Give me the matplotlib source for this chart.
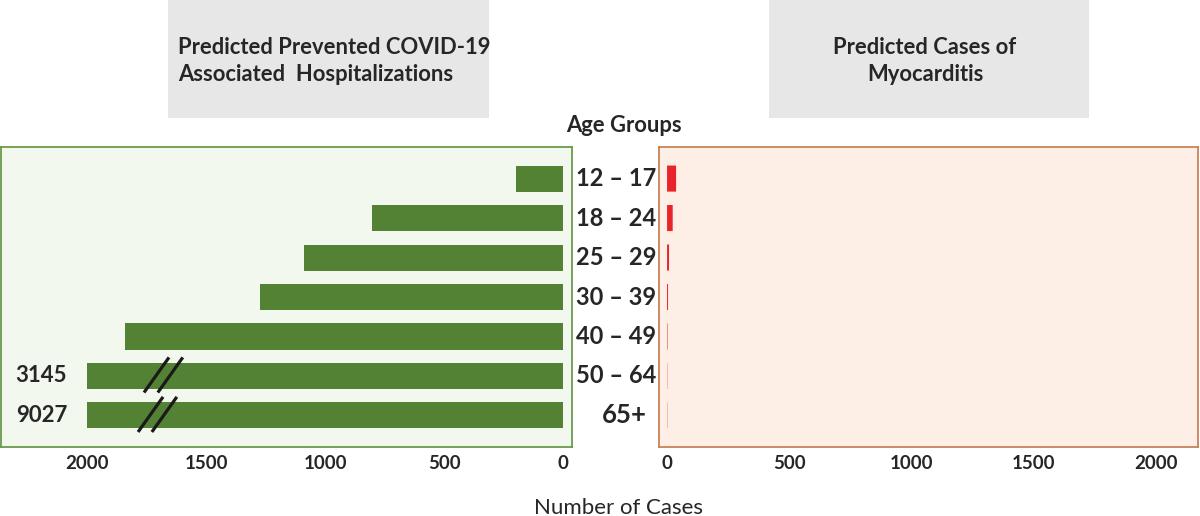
import matplotlib
matplotlib.use("Agg")
import matplotlib.pyplot as plt
from matplotlib.patches import Rectangle
from matplotlib.transforms import blended_transform_factory

plt.rcParams['font.family'] = ['Lato', 'DejaVu Sans']

# ---- data ----
age_groups = ["12 – 17", "18 – 24", "25 – 29", "30 – 39", "40 – 49", "50 – 64", "65+"]
hosp_prevented = [200, 805, 1090, 1275, 1840, 3145, 9027]
myocarditis = [37, 23, 8, 4, 2, 1, 1]
axis_cap = 2000
left_ticks = [2000, 1500, 1000, 500, 0]
right_ticks = [0, 500, 1000, 1500, 2000]

left_title = "Predicted Prevented COVID-19\nAssociated  Hospitalizations"
right_title = "Predicted Cases of\nMyocarditis"

green = "#548235"
red = "#e8232a"

fig = plt.figure(figsize=(12, 5.16), dpi=100)

# title boxes
fig.patches.append(Rectangle((0.14, 0.771), 0.2675, 0.229, transform=fig.transFigure,
                             facecolor="#e7e7e7", edgecolor="none", zorder=0))
fig.patches.append(Rectangle((0.6408, 0.771), 0.2667, 0.229, transform=fig.transFigure,
                             facecolor="#e7e7e7", edgecolor="none", zorder=0))
fig.text(178/1200, 1-61/516, left_title, ha="left", va="center", fontsize=15.8,
         fontweight="bold", color="#262626", linespacing=1.35)
fig.text(925/1200, 1-61/516, right_title, ha="center", va="center", fontsize=15.8,
         fontweight="bold", color="#262626", linespacing=1.35)
fig.text(624/1200, 1-126/516, "Age Groups", ha="center", va="center", fontsize=15.8,
         fontweight="bold", color="#262626")
fig.text(618/1200, 1-508/516, "Number of Cases", ha="center", va="center", fontsize=16,
         color="#262626")

# left panel
axL = fig.add_axes([0.001, 1-447/516, 571/1200, 300/516])
axL.set_facecolor("#f3f8ef")
ypos = list(range(len(age_groups)))
shown = [min(v, axis_cap) for v in hosp_prevented]
axL.barh(ypos, shown, height=0.66, color=green, zorder=2)
axL.set_xlim(2361, -38)
axL.set_ylim(6.8, -0.8)
axL.set_yticks([])
axL.set_xticks(left_ticks)
axL.set_xticklabels([str(t) for t in left_ticks], fontsize=13.5, fontweight="bold", color="#262626")
axL.tick_params(axis="x", length=0, pad=6)
for s in axL.spines.values():
    s.set_color("#6a9a4c")
    s.set_linewidth(1.3)

# axis breaks and true values for capped bars
for i, v in enumerate(hosp_prevented):
    if v > axis_cap:
        off = 0.0 if i == 5 else 25
        for dx in (0, 58):
            x0 = 1761 + off - dx
            axL.plot([x0, x0 - 105], [i + 0.42, i - 0.47], color="#1a1a1a", lw=2.3,
                     solid_capstyle="butt", zorder=3)
        axL.text(2300, i, str(v), ha="left", va="center", fontsize=16,
                 fontweight="bold", color="#262626")

# category labels between panels
tr = blended_transform_factory(fig.transFigure, axL.transData)
for i, g in enumerate(age_groups):
    xg = 624/1200 if g == "65+" else 616/1200
    fs = 18.5 if g == "65+" else 17
    fig.text(xg, i, g, transform=tr, ha="center", va="center", fontsize=fs,
             fontweight="bold", color="#262626")

# right panel
axR = fig.add_axes([659/1200, 1-447/516, 539/1200, 300/516])
axR.set_facecolor("#fdefe5")
bars = axR.barh(ypos, myocarditis, height=0.66, color=red, zorder=2, linewidth=0)
for b in bars:
    b.set_snap(False)
axR.set_xlim(-33, 2172)
axR.set_ylim(6.8, -0.8)
axR.set_yticks([])
axR.set_xticks(right_ticks)
axR.set_xticklabels([str(t) for t in right_ticks], fontsize=13.5, fontweight="bold", color="#262626")
axR.tick_params(axis="x", length=0, pad=6)
for s in axR.spines.values():
    s.set_color("#c9825a")
    s.set_linewidth(1.3)

fig.savefig("out.png", dpi=100)
